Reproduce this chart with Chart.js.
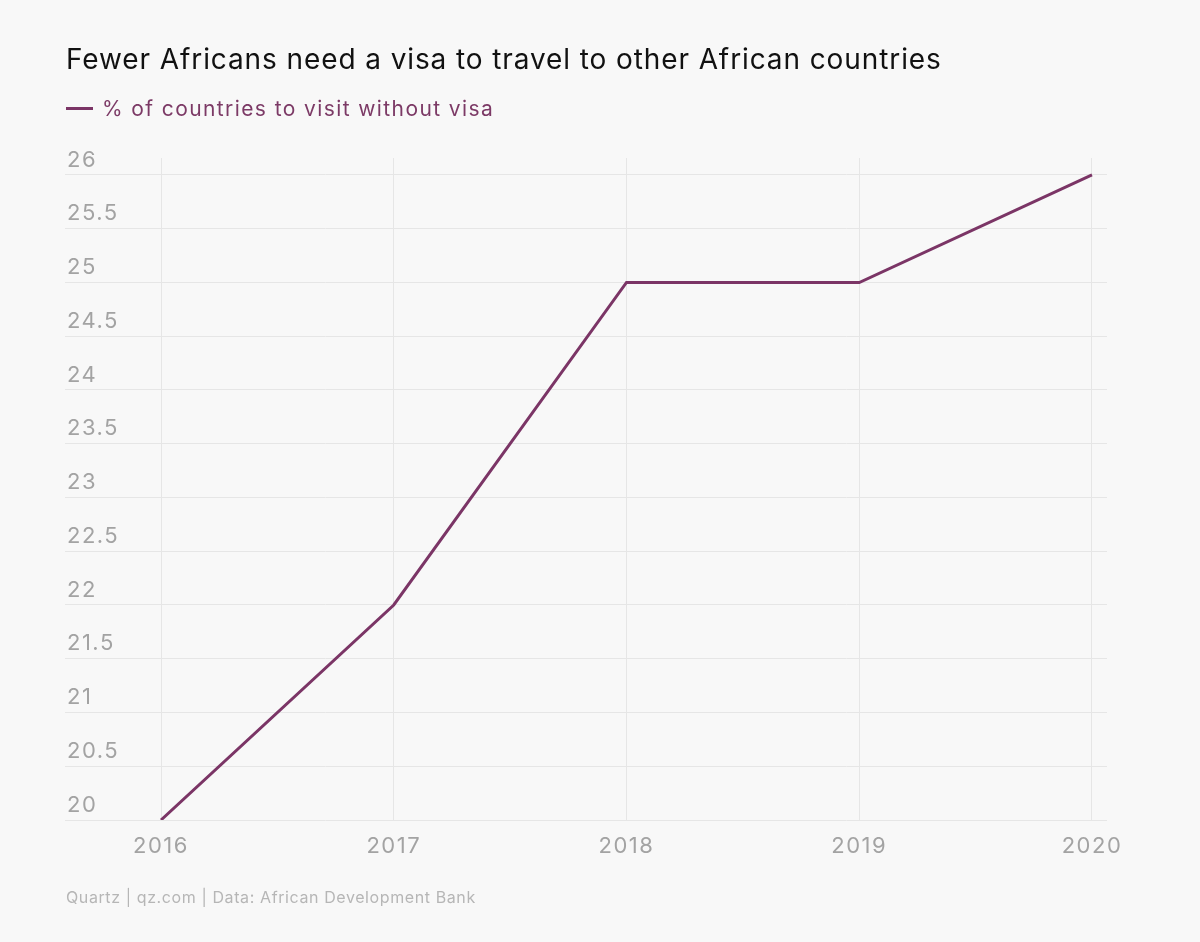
<!DOCTYPE html>
<html>
<head>
<meta charset="utf-8">
<script src="https://cdn.jsdelivr.net/npm/chart.js@4/dist/chart.umd.min.js"></script>
<style>
  html, body { margin: 0; padding: 0; background: #f8f8f8; }
  #wrap { position: relative; width: 1200px; height: 942px; background: #f8f8f8; overflow: hidden; }
  #c { position: absolute; left: 0; top: 0; }
  .t { position: absolute; font-family: Inter, "Open Sans", sans-serif; white-space: nowrap; }
  #title { left: 66px; top: 41px; font-size: 28px; color: #111; line-height: 36px; letter-spacing: 0.9px; }
  #legend { left: 66px; top: 95px; font-size: 21px; color: #7c3a66; line-height: 28px; letter-spacing: 1.4px; }
  #legend .sw { display: inline-block; width: 27px; height: 3px; background: #7b3566; vertical-align: middle; margin-right: 9px; position: relative; top: -2px; }
  #footer { left: 66px; top: 887px; font-size: 16px; color: #b6b6b6; line-height: 20px; letter-spacing: 0.6px; }
</style>
</head>
<body>
<div id="wrap">
  <canvas id="c" width="1200" height="942"></canvas>
  <div class="t" id="title">Fewer Africans need a visa to travel to other African countries</div>
  <div class="t" id="legend"><span class="sw"></span>% of countries to visit without visa</div>
  <div class="t" id="footer">Quartz | qz.com | Data: African Development Bank</div>
</div>
<script>
const years = [2016, 2017, 2018, 2019, 2020];
const visaFreeShare = [20, 22, 25, 25, 26];
const yTicks = [20, 20.5, 21, 21.5, 22, 22.5, 23, 23.5, 24, 24.5, 25, 25.5, 26];
const seriesLabel = '% of countries to visit without visa';

const spacing = {
  id: 'spacing',
  beforeDraw(chart) { chart.ctx.letterSpacing = '1.5px'; }
};

const ctx = document.getElementById('c').getContext('2d');
new Chart(ctx, {
  type: 'line',
  plugins: [spacing],
  data: {
    datasets: [{
      label: seriesLabel,
      data: years.map((y, i) => ({ x: y, y: visaFreeShare[i] })),
      borderColor: '#7b3566',
      borderWidth: 3,
      pointRadius: 0,
      tension: 0,
      fill: false
    }]
  },
  options: {
    responsive: false,
    animation: false,
    layout: { padding: { left: 65, right: 93, top: 158, bottom: 82 } },
    plugins: { legend: { display: false }, title: { display: false }, tooltip: { enabled: false } },
    scales: {
      x: {
        type: 'linear',
        min: 2015.5875,
        max: 2020.0645,
        afterBuildTicks: s => { s.ticks = years.map(v => ({ value: v })); },
        afterFit: s => { s.height = 40; },
        grid: { color: '#e6e6e6', lineWidth: 1, drawTicks: false },
        border: { display: false },
        ticks: {
          callback: v => String(v),
          color: '#a3a3a3',
          font: { family: 'Inter, "Open Sans", sans-serif', size: 22 },
          padding: 13,
          maxRotation: 0,
          autoSkip: false
        }
      },
      y: {
        type: 'linear',
        min: 20,
        max: 26.158,
        afterBuildTicks: s => { s.ticks = yTicks.map(v => ({ value: v })); },
        afterFit: s => { s.width = 0; },
        grid: { color: '#e6e6e6', lineWidth: 1, drawTicks: false },
        border: { display: false },
        ticks: {
          mirror: true,
          padding: 2,
          labelOffset: -15,
          callback: v => String(v),
          color: '#a3a3a3',
          font: { family: 'Inter, "Open Sans", sans-serif', size: 22 },
          autoSkip: false
        }
      }
    }
  }
});
</script>
</body>
</html>
